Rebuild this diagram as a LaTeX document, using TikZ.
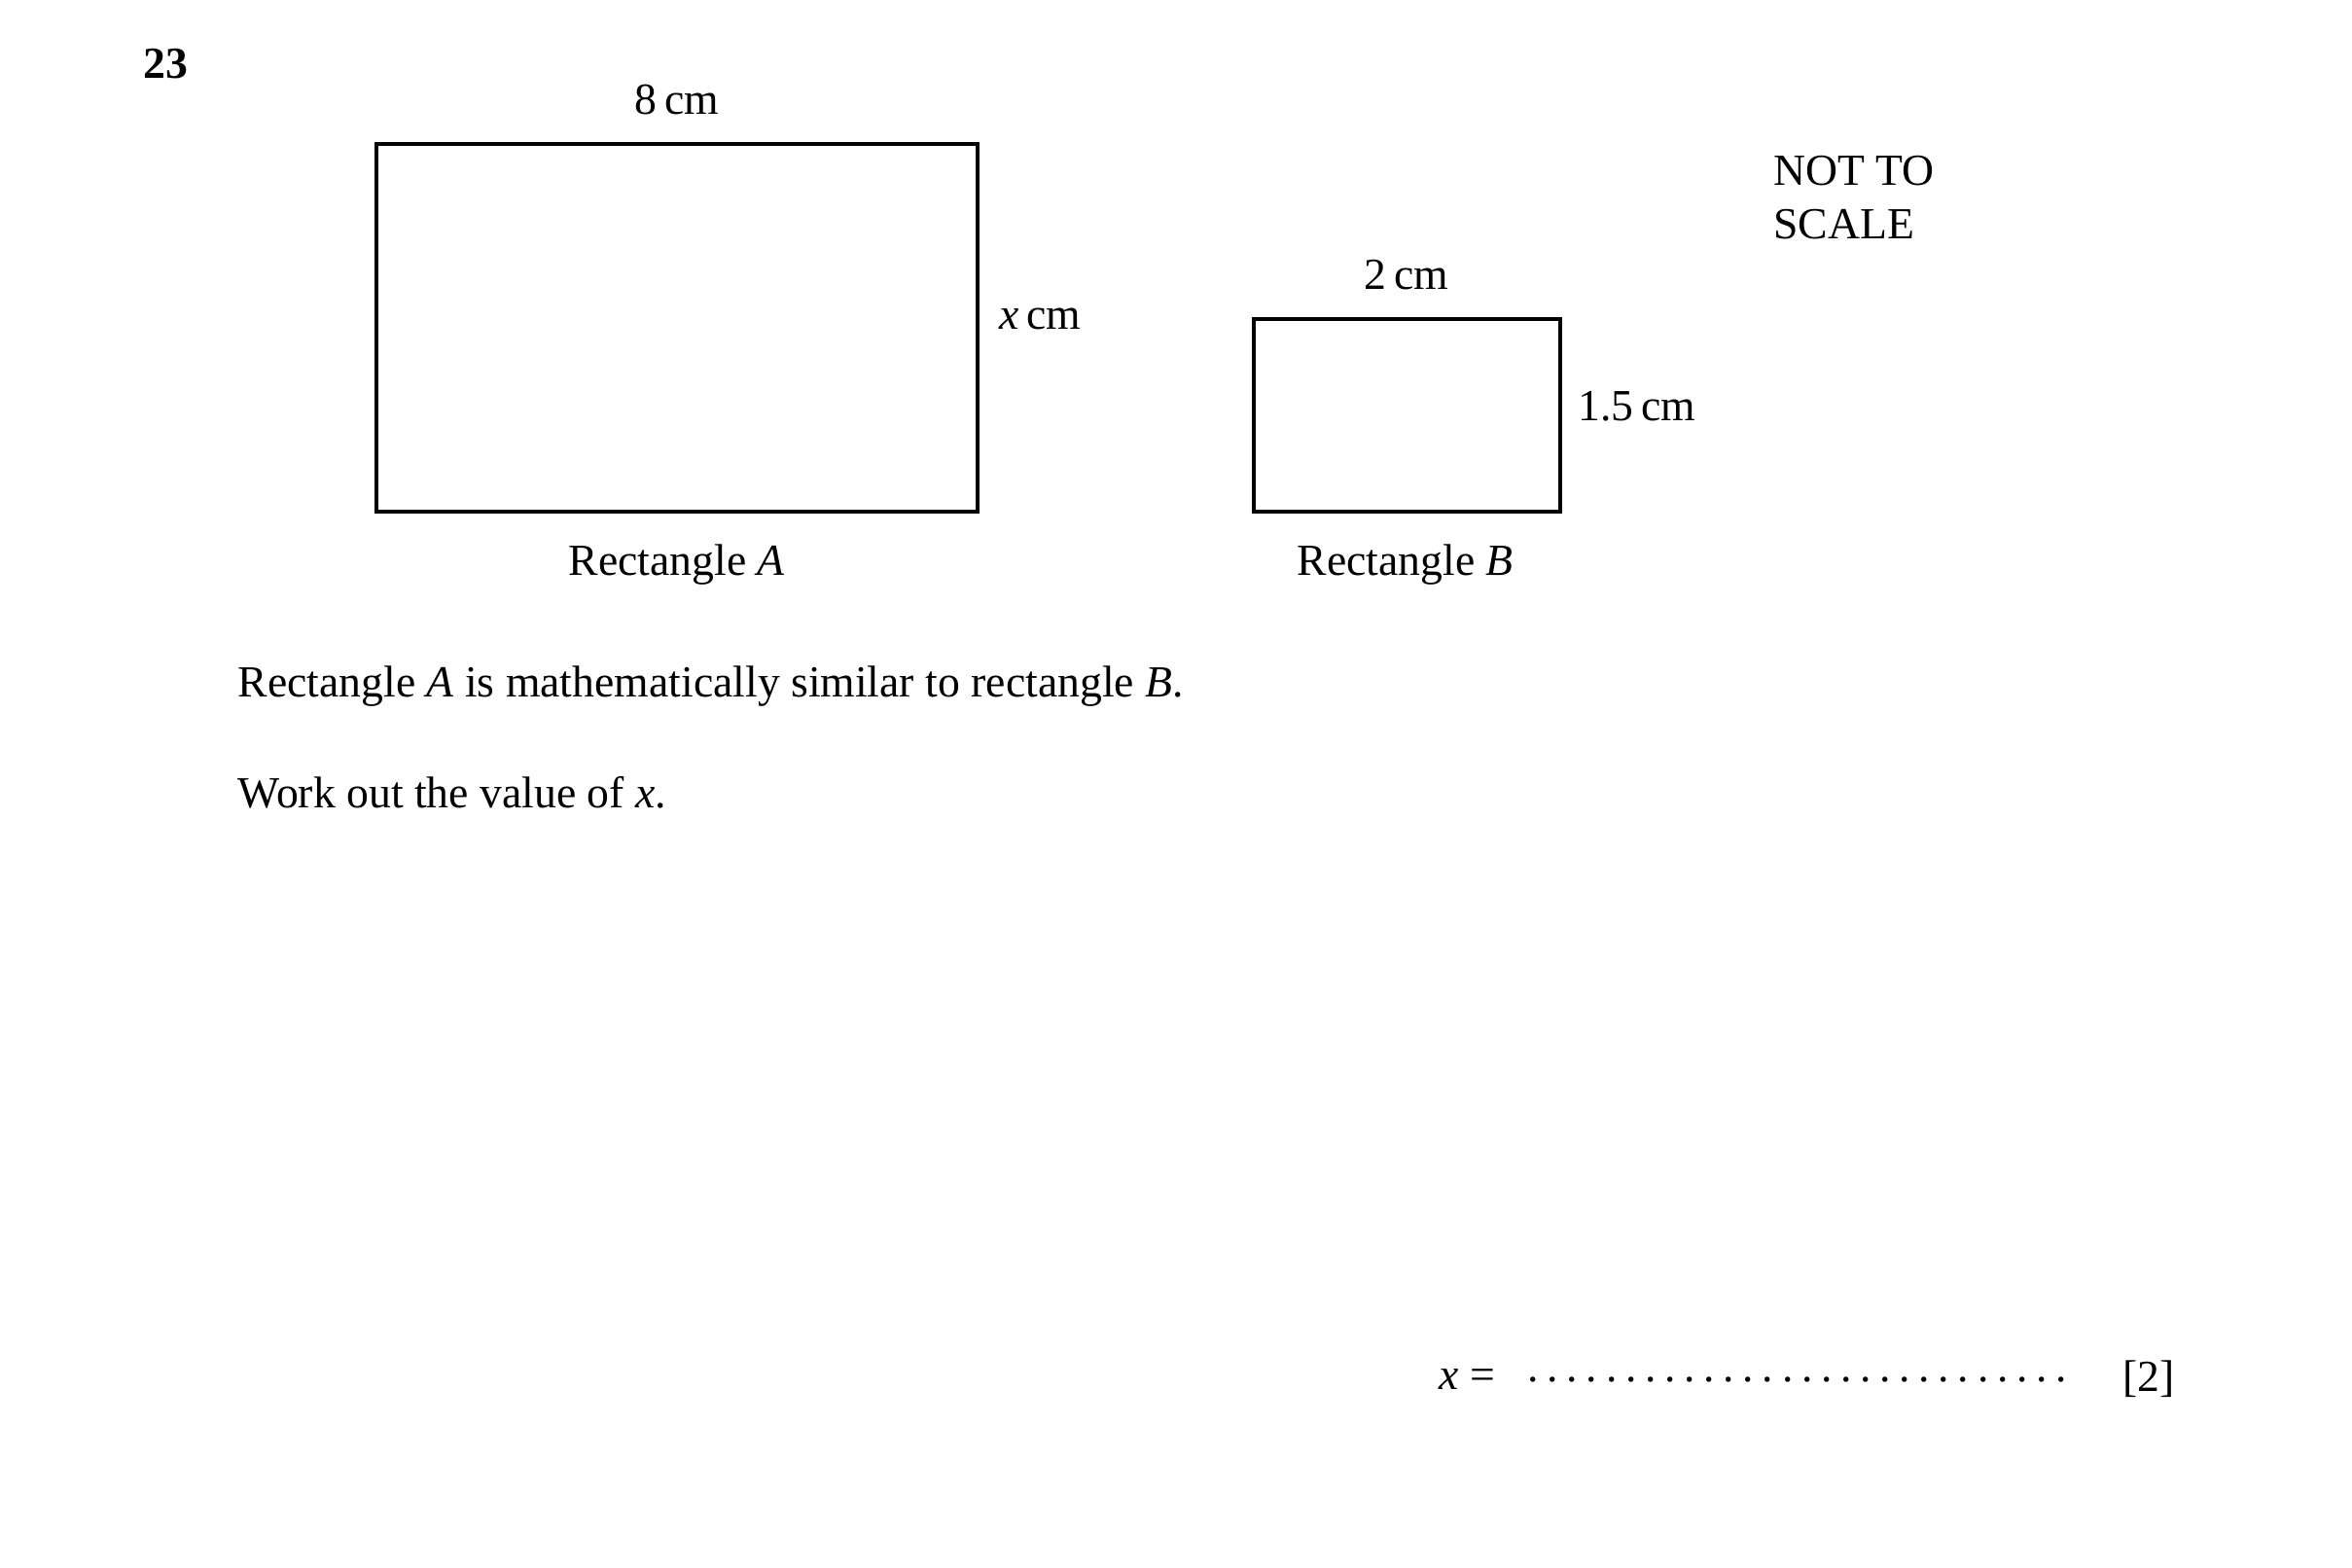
\documentclass[tikz,border=0pt]{standalone}
\usepackage{fontspec}
\setmainfont{Liberation Serif}
\usetikzlibrary{positioning}
\tikzstyle{rect} = [draw=black, line width=1.1pt, inner sep=0pt]
\tikzstyle{txt} = [inner sep=1pt, font=\fontsize{12.5}{15}\selectfont]

\begin{document}
\begin{tikzpicture}[x=0.015cm, y=-0.015cm]
\useasboundingbox (0,0) rectangle (1550,1033);

% Rectangles
\draw[rect] (248,95)  rectangle (644,337);
\coordinate (Atop) at (446,95);  \coordinate (Aright) at (644,210);
\draw[rect] (826,210) rectangle (1028,337);
\coordinate (Btop) at (927,210); \coordinate (Bright) at (1028,268);

% Labels
\node[txt, above = 7pt of Atop]            (la) {8\,cm};
\node[txt, right = 5pt of Aright]          (lx) {\textit{x}\,cm};
\node[txt, above = 7pt of Btop]            (lb) {2\,cm};
\node[txt, right = 4pt of Bright]          (lh) {1.5\,cm};
\node[txt] at (446,372)                    (na) {Rectangle \textit{A}};
\node[txt] at (926,372)                    (nb) {Rectangle \textit{B}};
\node[txt, anchor=north west, align=left] at (1166,100) (ns) {NOT TO\\SCALE};

% Question
\node[txt, font=\fontsize{12.5}{15}\selectfont\bfseries] at (109,42) (q) {23};
\node[txt, anchor=west] at (154,452) (s1) {Rectangle \textit{A} is mathematically similar to rectangle \textit{B}.};
\node[txt, anchor=west] at (154,522) (s2) {Work out the value of \textit{x}.};
\node[txt, anchor=east] at (988,909) (xe) {\textit{x} =};
\node[txt, anchor=west] at (995,909) (dots) {\makebox[5.6cm]{\dotfill}};
\node[txt, anchor=east] at (1436,909) (mk) {[2]};
\end{tikzpicture}
\end{document}
